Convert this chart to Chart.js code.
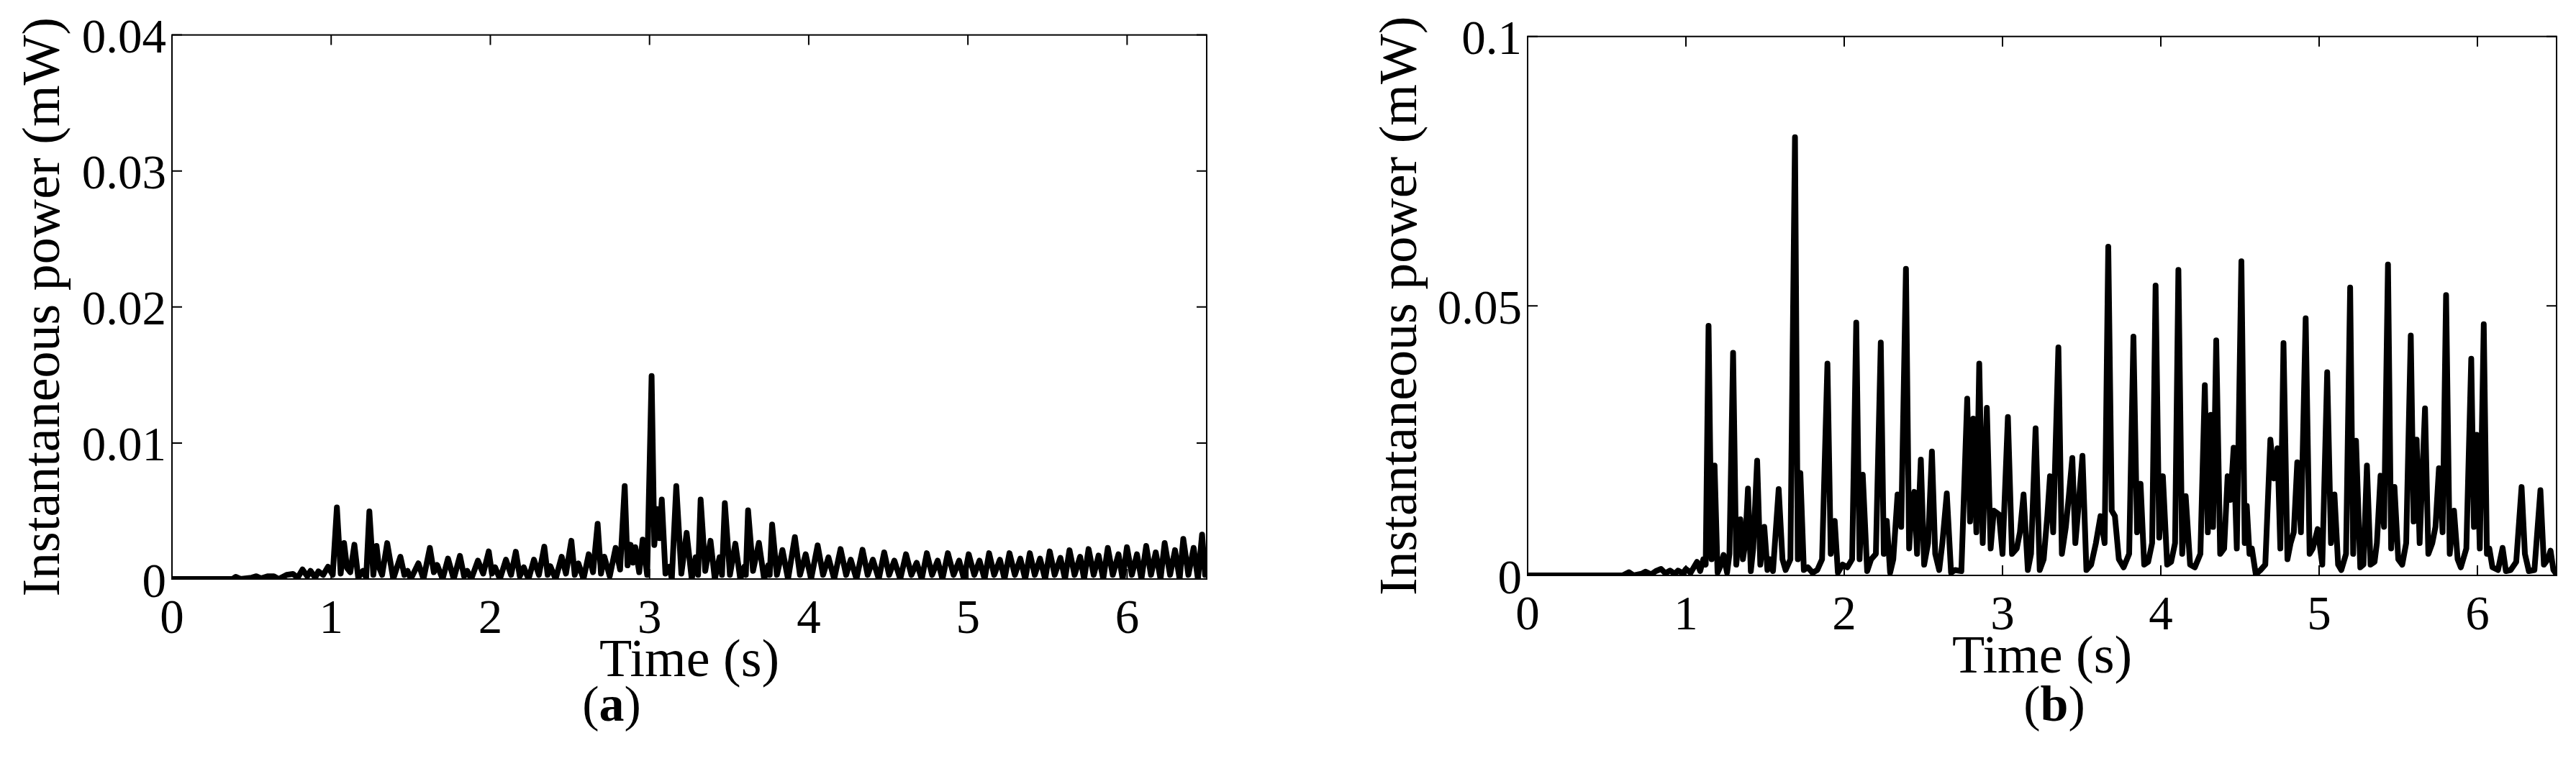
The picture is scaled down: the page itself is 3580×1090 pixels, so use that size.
<!DOCTYPE html>
<html>
<head>
<meta charset="utf-8">
<script src="https://cdn.jsdelivr.net/npm/chart.js@4.4.0/dist/chart.umd.min.js"></script>
<style>
  html, body { margin: 0; padding: 0; background: #fff; }
  #page { position: relative; width: 3580px; height: 1090px; overflow: hidden; background: #fff; }
  canvas { position: absolute; top: 0; }
  .cap { position: absolute; top: 944px; width: 400px; text-align: center;
         font: 70px/70px "Liberation Serif", serif; color: #000; }
</style>
</head>
<body>
<div id="page">
  <canvas id="chartA" width="1790" height="1090" style="left:0"></canvas>
  <canvas id="chartB" width="1790" height="1090" style="left:1790px"></canvas>
  <div class="cap" style="left:650px">(<b>a</b>)</div>
  <div class="cap" style="left:2655px">(<b>b</b>)</div>
</div>
<script>
// axis ticks
const xTicks = [0, 1, 2, 3, 4, 5, 6];
const yTicksA = [0, 0.01, 0.02, 0.03, 0.04];
const yLabelsA = ['0', '0.01', '0.02', '0.03', '0.04'];
const yTicksB = [0, 0.05, 0.1];
const yLabelsB = ['0', '0.05', '0.1'];

// (a) time (s) and instantaneous power (mW)
const timeA = [
  0, 0.38, 0.40, 0.43, 0.50, 0.53, 0.56, 0.60, 0.64, 0.67,
  0.72, 0.76, 0.79, 0.82, 0.85, 0.87, 0.90, 0.92, 0.95, 0.98,
  1.01, 1.036, 1.06, 1.081, 1.10, 1.12, 1.146, 1.17, 1.20, 1.22,
  1.24, 1.265, 1.285, 1.30, 1.32, 1.352, 1.39, 1.435, 1.46, 1.48,
  1.50, 1.548, 1.58, 1.62, 1.645, 1.666, 1.70, 1.734, 1.77, 1.809,
  1.835, 1.855, 1.88, 1.922, 1.955, 1.99, 2.01, 2.03, 2.06, 2.098,
  2.13, 2.16, 2.185, 2.21, 2.24, 2.274, 2.305, 2.339, 2.36, 2.377,
  2.41, 2.448, 2.475, 2.509, 2.53, 2.553, 2.585, 2.618, 2.645, 2.674,
  2.695, 2.716, 2.75, 2.787, 2.815, 2.844, 2.862, 2.881, 2.896, 2.911,
  2.935, 2.957, 2.985, 3.013, 3.03, 3.047, 3.062, 3.077, 3.10, 3.125,
  3.14, 3.168, 3.20, 3.233, 3.265, 3.29, 3.305, 3.321, 3.35, 3.383,
  3.41, 3.44, 3.455, 3.473, 3.505, 3.539, 3.57, 3.595, 3.605, 3.619,
  3.65, 3.687, 3.72, 3.745, 3.755, 3.77, 3.80, 3.835, 3.87, 3.913,
  3.945, 3.981, 4.015, 4.056, 4.09, 4.124, 4.16, 4.2, 4.235, 4.264,
  4.30, 4.338, 4.37, 4.403, 4.44, 4.474, 4.505, 4.538, 4.575, 4.611,
  4.645, 4.678, 4.71, 4.742, 4.775, 4.81, 4.84, 4.874, 4.91, 4.945,
  4.975, 5.005, 5.04, 5.073, 5.105, 5.133, 5.165, 5.201, 5.23, 5.261,
  5.295, 5.329, 5.36, 5.389, 5.42, 5.453, 5.485, 5.514, 5.545, 5.581,
  5.61, 5.638, 5.67, 5.705, 5.73, 5.758, 5.79, 5.821, 5.85, 5.879,
  5.91, 5.946, 5.972, 5.999, 6.03, 6.062, 6.09, 6.12, 6.15, 6.18,
  6.21, 6.236, 6.27, 6.301, 6.33, 6.353, 6.385, 6.418, 6.445, 6.471,
  6.49, 6.5
];
const powerA = [
  0, 0, 0.00016, 0, 0.0001, 0.0002, 0.00005, 0.0002, 0.0002, 0,
  0.0003, 0.00037, 0.0001, 0.0007, 0.0002, 0.0006, 0.0001, 0.00056, 0.0003, 0.0009,
  0.0003, 0.00526, 0.0004, 0.00264, 0.0008, 0.0005, 0.00252, 0.0001, 0.0006, 0.0001,
  0.00497, 0.0003, 0.00243, 0.0009, 0.0003, 0.00264, 0, 0.00164, 0.0003, 0.0006,
  0, 0.00115, 0, 0.00229, 0.0005, 0.00103, 0, 0.0015, 0, 0.0017,
  0.0002, 0.0006, 0, 0.00135, 0.0004, 0.00203, 0.0004, 0.00086, 0, 0.00142,
  0.0003, 0.002, 0.0002, 0.00086, 0, 0.00142, 0.0003, 0.00238, 0.0003, 0.00094,
  0, 0.00164, 0.0004, 0.00281, 0.0003, 0.00115, 0, 0.00182, 0.0005, 0.00406,
  0.0004, 0.00164, 0.0002, 0.00229, 0.0007, 0.00684, 0.001, 0.00252, 0.0012, 0.00234,
  0.0005, 0.0029, 0.0003, 0.01493, 0.0025, 0.00514, 0.003, 0.00584, 0.0004, 0.0009,
  0, 0.00684, 0.0004, 0.00339, 0, 0.0016, 0.0003, 0.00584, 0.0006, 0.00281,
  0, 0.0016, 0.0003, 0.00558, 0.0003, 0.0026, 0, 0.0009, 0.0003, 0.00505,
  0.0006, 0.00266, 0, 0.001, 0.0003, 0.004, 0.0003, 0.00213, 0, 0.00308,
  0.0003, 0.00182, 0, 0.00247, 0.0003, 0.00159, 0, 0.0022, 0.0003, 0.00142,
  0, 0.00215, 0.0003, 0.00142, 0, 0.00196, 0.0003, 0.00135, 0, 0.00182,
  0.0003, 0.0012, 0, 0.0019, 0.0003, 0.00135, 0, 0.0019, 0.0003, 0.00135,
  0, 0.00182, 0.0003, 0.00135, 0, 0.0019, 0.0003, 0.00142, 0, 0.0019,
  0.0003, 0.0015, 0, 0.0019, 0.0003, 0.0015, 0, 0.00203, 0.0003, 0.00156,
  0, 0.00212, 0.0003, 0.00164, 0, 0.0022, 0.0003, 0.00173, 0, 0.00229,
  0.0003, 0.00182, 0, 0.00234, 0.0003, 0.00182, 0, 0.00243, 0.0003, 0.00196,
  0, 0.00264, 0.0003, 0.00212, 0, 0.00295, 0.0003, 0.00229, 0, 0.00327,
  0.0003, 0.0008
];

// (b) time (s) and instantaneous power (mW)
const timeB = [
  0, 0.60, 0.64, 0.67, 0.72, 0.745, 0.78, 0.81, 0.843, 0.87,
  0.90, 0.93, 0.95, 0.98, 1.0, 1.03, 1.07, 1.09, 1.11, 1.125,
  1.143, 1.162, 1.181, 1.20, 1.215, 1.238, 1.26, 1.275, 1.298, 1.318,
  1.344, 1.36, 1.375, 1.392, 1.41, 1.425, 1.45, 1.47, 1.495, 1.515,
  1.53, 1.55, 1.586, 1.61, 1.63, 1.66, 1.689, 1.707, 1.723, 1.745,
  1.77, 1.80, 1.83, 1.86, 1.894, 1.915, 1.94, 1.96, 1.99, 2.02,
  2.05, 2.076, 2.097, 2.117, 2.145, 2.17, 2.20, 2.231, 2.25, 2.269,
  2.29, 2.31, 2.337, 2.36, 2.39, 2.41, 2.425, 2.443, 2.46, 2.484,
  2.505, 2.53, 2.554, 2.575, 2.60, 2.62, 2.648, 2.675, 2.70, 2.74,
  2.777, 2.795, 2.815, 2.835, 2.853, 2.875, 2.901, 2.925, 2.945, 2.978,
  3.00, 3.034, 3.06, 3.09, 3.11, 3.133, 3.16, 3.18, 3.209, 3.235,
  3.26, 3.283, 3.30, 3.32, 3.353, 3.375, 3.40, 3.42, 3.441, 3.46,
  3.475, 3.505, 3.53, 3.56, 3.59, 3.619, 3.645, 3.668, 3.69, 3.71,
  3.735, 3.765, 3.80, 3.827, 3.85, 3.872, 3.895, 3.92, 3.945, 3.967,
  3.99, 4.013, 4.04, 4.065, 4.09, 4.111, 4.135, 4.157, 4.185, 4.215,
  4.25, 4.278, 4.297, 4.316, 4.33, 4.35, 4.375, 4.40, 4.422, 4.44,
  4.46, 4.48, 4.509, 4.53, 4.543, 4.56, 4.575, 4.60, 4.63, 4.66,
  4.692, 4.715, 4.737, 4.755, 4.775, 4.80, 4.82, 4.84, 4.862, 4.885,
  4.915, 4.94, 4.96, 4.991, 5.02, 5.051, 5.075, 5.097, 5.12, 5.14,
  5.17, 5.196, 5.215, 5.233, 5.26, 5.28, 5.302, 5.325, 5.35, 5.365,
  5.388, 5.41, 5.435, 5.455, 5.476, 5.50, 5.525, 5.55, 5.579, 5.597,
  5.616, 5.635, 5.669, 5.69, 5.715, 5.735, 5.757, 5.78, 5.802, 5.825,
  5.852, 5.875, 5.895, 5.93, 5.961, 5.978, 5.995, 6.015, 6.04, 6.06,
  6.075, 6.095, 6.13, 6.159, 6.18, 6.21, 6.245, 6.279, 6.30, 6.325,
  6.36, 6.398, 6.42, 6.445, 6.462, 6.48, 6.5
];
const powerB = [
  0, 0, 0.0006, 0, 0.0003, 0.0007, 0.0002, 0.0008, 0.0012, 0.0004,
  0.0009, 0.0003, 0.0009, 0.0004, 0.0012, 0.0005, 0.0025, 0.0008, 0.003, 0.002,
  0.0463, 0.003, 0.0204, 0.0005, 0.0015, 0.0038, 0.0005, 0.004, 0.0413, 0.002,
  0.0104, 0.003, 0.006, 0.0161, 0.0008, 0.005, 0.0213, 0.002, 0.009, 0.001,
  0.003, 0.0008, 0.016, 0.003, 0.001, 0.003, 0.0813, 0.003, 0.019, 0.001,
  0.0015, 0.0005, 0.001, 0.003, 0.0393, 0.004, 0.0101, 0.0005, 0.002, 0.0015,
  0.003, 0.0469, 0.003, 0.0187, 0.0008, 0.003, 0.004, 0.0432, 0.004, 0.0101,
  0.0005, 0.003, 0.015, 0.009, 0.0569, 0.005, 0.012, 0.0155, 0.004, 0.0215,
  0.002, 0.006, 0.023, 0.004, 0.001, 0.006, 0.0152, 0.0005, 0.001, 0.0008,
  0.0328, 0.01, 0.0291, 0.008, 0.0393, 0.006, 0.0311, 0.005, 0.012, 0.0113,
  0.004, 0.0294, 0.004, 0.005, 0.008, 0.015, 0.001, 0.004, 0.0273, 0.001,
  0.003, 0.011, 0.0184, 0.008, 0.0423, 0.004, 0.009, 0.015, 0.0218, 0.006,
  0.011, 0.0222, 0.001, 0.002, 0.006, 0.011, 0.006, 0.061, 0.012, 0.011,
  0.003, 0.0015, 0.004, 0.0443, 0.008, 0.017, 0.002, 0.0025, 0.006, 0.0538,
  0.007, 0.0184, 0.002, 0.0025, 0.006, 0.0567, 0.004, 0.0147, 0.002, 0.0015,
  0.004, 0.0353, 0.008, 0.0298, 0.009, 0.0436, 0.004, 0.005, 0.0184, 0.014,
  0.0237, 0.005, 0.0583, 0.006, 0.0129, 0.004, 0.005, 0.0002, 0.001, 0.002,
  0.0252, 0.018, 0.0236, 0.005, 0.0431, 0.003, 0.006, 0.008, 0.021, 0.008,
  0.0477, 0.004, 0.005, 0.0086, 0.002, 0.0377, 0.006, 0.015, 0.002, 0.001,
  0.004, 0.0534, 0.004, 0.025, 0.0015, 0.002, 0.0204, 0.002, 0.0025, 0.006,
  0.0185, 0.009, 0.0577, 0.005, 0.0164, 0.003, 0.002, 0.006, 0.0445, 0.01,
  0.0252, 0.006, 0.031, 0.004, 0.006, 0.009, 0.0199, 0.008, 0.052, 0.004,
  0.012, 0.003, 0.0015, 0.005, 0.0402, 0.009, 0.0261, 0.005, 0.0466, 0.004,
  0.005, 0.0015, 0.001, 0.0051, 0.0008, 0.001, 0.0025, 0.0164, 0.004, 0.0008,
  0.001, 0.0158, 0.002, 0.003, 0.0046, 0.001, 0.0002
];

// closed box with short inward ticks on all four sides (Matlab style)
const boxTicks = {
  id: 'boxTicks',
  afterDatasetsDraw(chart) {
    const { ctx, chartArea: a, scales: { x, y } } = chart;
    const len = 14;
    ctx.save();
    ctx.strokeStyle = '#000';
    ctx.lineWidth = 2;
    ctx.strokeRect(a.left, a.top, a.right - a.left, a.bottom - a.top);
    ctx.beginPath();
    x.ticks.forEach(t => {
      const px = x.getPixelForValue(t.value);
      ctx.moveTo(px, a.bottom); ctx.lineTo(px, a.bottom - len);
      ctx.moveTo(px, a.top); ctx.lineTo(px, a.top + len);
    });
    y.ticks.forEach(t => {
      const py = y.getPixelForValue(t.value);
      ctx.moveTo(a.left, py); ctx.lineTo(a.left + len, py);
      ctx.moveTo(a.right, py); ctx.lineTo(a.right - len, py);
    });
    ctx.stroke();
    ctx.restore();
  }
};

const serif = '"Liberation Serif", "Times New Roman", serif';

const makeChart = (id, times, values, yMax, yTicks, yLabels, pad, yWidth) => {
  const ctx = document.getElementById(id);
  return new Chart(ctx, {
    type: 'line',
    data: {
      datasets: [{
        data: times.map((t, i) => ({ x: t, y: values[i] })),
        borderColor: '#000',
        borderWidth: 8,
        borderJoinStyle: 'round',
        borderCapStyle: 'round',
        pointRadius: 0,
        tension: 0,
        fill: false
      }]
    },
    options: {
      responsive: false,
      devicePixelRatio: 1,
      animation: false,
      layout: { padding: pad },
      plugins: {
        legend: { display: false },
        tooltip: { enabled: false }
      },
      scales: {
        x: {
          type: 'linear',
          min: 0,
          max: 6.5,
          afterBuildTicks: s => { s.ticks = xTicks.map(v => ({ value: v })); },
          afterFit: s => { s.height = 160.4; },
          grid: { display: false, drawTicks: false },
          border: { display: false },
          ticks: {
            color: '#000',
            padding: 16.8,
            maxRotation: 0,
            font: { family: serif, size: 67 },
            callback: v => String(v)
          },
          title: {
            display: true,
            text: 'Time (s)',
            color: '#000',
            padding: 0,
            font: { family: serif, size: 74 }
          }
        },
        y: {
          min: 0,
          max: yMax,
          afterBuildTicks: s => { s.ticks = yTicks.map(v => ({ value: v })); },
          afterFit: s => { s.width = yWidth; },
          grid: { display: false, drawTicks: false },
          border: { display: false },
          ticks: {
            color: '#000',
            padding: 8,
            labelOffset: 7,
            font: { family: serif, size: 67 },
            callback: (v, i) => yLabels[i]
          },
          title: {
            display: true,
            text: 'Instantaneous power (mW)',
            color: '#000',
            padding: { top: 18, bottom: 0 },
            font: { family: serif, size: 74 }
          }
        }
      }
    },
    plugins: [boxTicks]
  });
};

makeChart('chartA', timeA, powerA, 0.04, yTicksA, yLabelsA,
  { left: 0, top: 48.6, right: 113, bottom: 124.6 }, 239);
makeChart('chartB', timeB, powerB, 0.1, yTicksB, yLabelsB,
  { left: 96, top: 50.7, right: 27, bottom: 129.6 }, 237);
</script>
</body>
</html>
